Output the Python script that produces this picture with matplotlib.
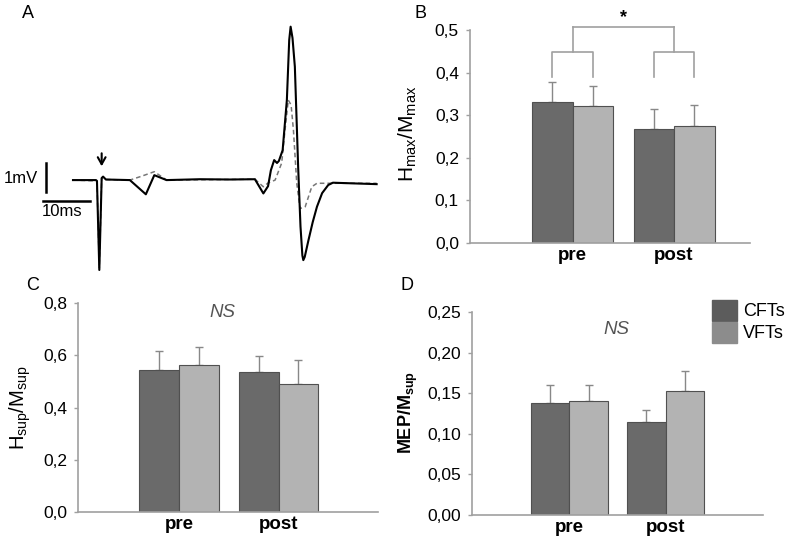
import numpy as np
import matplotlib
matplotlib.use("Agg")
import matplotlib.pyplot as plt
from matplotlib.patches import Patch

plt.rcParams['font.family'] = ['Liberation Sans', 'DejaVu Sans']

# --------------------------------------------------
# Data
# --------------------------------------------------
# Panel A: example traces (ms, mV)
t_solid = [0, 4.9, 5.1, 5.6, 6.1, 6.4, 7.0, 12.1, 15.5, 17.3, 19.9, 27.0, 33.4,
           38.7, 40.5, 41.5, 42.1, 42.8, 43.4, 43.8, 44.6, 45.5, 46.0, 46.3,
           46.7, 47.2, 47.9, 48.4, 48.8, 49.0, 49.3, 50.1, 51.0, 51.9, 53.0,
           54.3, 55.3, 64.6]
v_solid = [0, 0, -0.03, -3.10, 0.07, 0.12, 0.02, 0, -0.49, 0.17, 0, 0.03, 0.02,
           0.03, -0.46, -0.21, 0.34, 0.69, 0.59, 0.66, 1.03, 2.76, 4.83, 5.29,
           4.90, 3.91, 0.46, -1.60, -2.60, -2.76, -2.65, -2.07, -1.45, -0.92, -0.45,
           -0.17, -0.09, -0.14]
t_dash = [0, 5.1, 5.6, 6.1, 6.4, 7.0, 12.1, 14.7, 17.3, 19.9, 38.7, 40.5, 41.5,
          43.0, 44.4, 45.1, 45.8, 46.4, 46.9, 47.6, 48.3, 49.4, 50.8, 51.9, 64.6]
v_dash = [0, -0.03, -3.03, 0.07, 0.10, 0.02, 0, 0.14, 0.29, 0, 0.03, -0.23, -0.10,
          0, 0.59, 1.72, 2.76, 2.59, 1.72, -0.10, -0.98, -0.92, -0.23, -0.11, -0.11]

groups = ["pre", "post"]

# Panel B: Hmax/Mmax
hmax_cft = [0.332, 0.268]
hmax_cft_err = [0.047, 0.047]
hmax_vft = [0.322, 0.275]
hmax_vft_err = [0.047, 0.050]

# Panel C: Hsup/Msup
hsup_cft = [0.545, 0.537]
hsup_cft_err = [0.072, 0.062]
hsup_vft = [0.564, 0.491]
hsup_vft_err = [0.066, 0.091]

# Panel D: MEP/Msup
mep_cft = [0.1385, 0.115]
mep_cft_err = [0.0215, 0.014]
mep_vft = [0.1406, 0.153]
mep_vft_err = [0.019, 0.024]

DARK = "#6a6a6a"
LIGHT = "#b3b3b3"
EDGE = "#505050"
AXC = "#a0a0a0"

W, H = 787, 542
fig = plt.figure(figsize=(W / 100, H / 100), dpi=100)


def px_axes(left, top, right, bottom):
    return fig.add_axes([left / W, 1 - bottom / H, (right - left) / W, (bottom - top) / H])


def bar_panel(ax, cft, cft_err, vft, vft_err, ymax, step, fmt, xlim):
    x = np.arange(len(groups))
    w = 0.4
    ax.bar(x - w / 2, cft, w, color=DARK, edgecolor=EDGE, linewidth=0.8, zorder=2)
    ax.bar(x + w / 2, vft, w, color=LIGHT, edgecolor=EDGE, linewidth=0.8, zorder=2)
    ax.errorbar(x - w / 2, cft, yerr=[np.zeros(len(cft)), cft_err], fmt='none',
                ecolor="#888888", elinewidth=1, capsize=3, zorder=1)
    ax.errorbar(x + w / 2, vft, yerr=[np.zeros(len(vft)), vft_err], fmt='none',
                ecolor="#888888", elinewidth=1, capsize=3, zorder=1)
    ax.set_xlim(*xlim)
    ax.set_ylim(0, ymax)
    yt = np.arange(0, ymax + step / 2, step)
    ax.set_yticks(yt)
    ax.set_yticklabels([fmt.format(v).replace('.', ',') for v in yt], fontsize=12.5)
    ax.set_xticks(x)
    ax.set_xticklabels(groups, fontsize=13.5, fontweight='bold')
    ax.tick_params(axis='x', length=0, pad=3)
    ax.tick_params(axis='y', length=3, width=1, color=AXC, pad=5)
    for s in ['top', 'right']:
        ax.spines[s].set_visible(False)
    for s in ['left', 'bottom']:
        ax.spines[s].set_color(AXC)
        ax.spines[s].set_linewidth(1.2)


# --------------------------------------------------
# A: traces
# --------------------------------------------------
axA = px_axes(0, 0, 400, 290)
axA.plot(t_dash, v_dash, color="#777777", lw=1.1, ls=(0, (3, 2)))
axA.plot(t_solid, v_solid, color="black", lw=1.5)
axA.set_xlim(-15.53, 69.57)
axA.set_ylim(-3.79, 6.21)
axA.axis('off')
# scale bars 1 mV / 10 ms
axA.plot([-5.74, -5.74], [-0.40, 0.60], color="black", lw=1.8)
axA.plot([-6.45, 3.55], [-0.72, -0.72], color="black", lw=1.8)
axA.text(-7.4, 0.05, "1mV", ha='right', va='center', fontsize=12)
axA.text(-6.55, -1.07, "10ms", ha='left', va='center', fontsize=12)
axA.annotate("", xy=(6.1, 0.38), xytext=(6.1, 1.02),
             arrowprops=dict(arrowstyle="->,head_length=0.5,head_width=0.28",
                             color="black", lw=1.5))

# --------------------------------------------------
# B: Hmax/Mmax
# --------------------------------------------------
axB = px_axes(470, 30, 750, 243)
bar_panel(axB, hmax_cft, hmax_cft_err, hmax_vft, hmax_vft_err, 0.5, 0.1, "{:.1f}",
          (-1.014, 1.75))
bk = dict(color=AXC, lw=1.2, clip_on=False)
for c in [0, 1]:
    axB.plot([c - 0.2, c - 0.2, c + 0.2, c + 0.2], [0.39, 0.449, 0.449, 0.39], **bk)
    axB.plot([c, c], [0.449, 0.508], **bk)
axB.plot([0, 1], [0.508, 0.508], **bk)
axB.text(0.5, 0.528, "*", ha='center', va='center', fontsize=13, fontweight='bold')

# --------------------------------------------------
# C: Hsup/Msup
# --------------------------------------------------
axC = px_axes(78, 303, 378, 512)
bar_panel(axC, hsup_cft, hsup_cft_err, hsup_vft, hsup_vft_err, 0.8, 0.2, "{:.1f}",
          (-1.017, 2.0))
axC.text(0.48, 0.955, "NS", transform=axC.transAxes, ha='center', va='center',
         fontsize=13.5, style='italic', color="#555555")

# --------------------------------------------------
# D: MEP/Msup
# --------------------------------------------------
axD = px_axes(472, 312, 763, 515)
bar_panel(axD, mep_cft, mep_cft_err, mep_vft, mep_vft_err, 0.25, 0.05, "{:.2f}",
          (-1.01, 2.01))
axD.text(0.498, 0.915, "NS", transform=axD.transAxes, ha='center', va='center',
         fontsize=13.5, style='italic', color="#555555")

# y labels
fig.text(408 / W, 1 - 134 / H, r"H$_{\mathregular{max}}$/M$_{\mathregular{max}}$",
         rotation=90, ha='center', va='center', fontsize=15)
fig.text(20 / W, 1 - 408 / H, r"H$_{\mathregular{sup}}$/M$_{\mathregular{sup}}$",
         rotation=90, ha='center', va='center', fontsize=14.5)
fig.text(408 / W, 1 - 412 / H, r"MEP/M$_{\mathregular{sup}}$",
         rotation=90, ha='center', va='center', fontsize=13, fontweight='bold')

# panel letters
for lab, x, y in [("A", 28, 13), ("B", 420, 13), ("C", 33, 285), ("D", 407, 285)]:
    fig.text(x / W, 1 - y / H, lab, ha='center', va='center', fontsize=13)

# legend
fig.legend(handles=[Patch(facecolor="#5c5c5c", edgecolor="#5c5c5c", label="CFTs"),
                    Patch(facecolor="#8c8c8c", edgecolor="#8c8c8c", label="VFTs")],
           loc='upper left', bbox_to_anchor=(703 / W, 1 - 291 / H), frameon=False,
           fontsize=13, handlelength=1.4, handleheight=1.4, labelspacing=0.05,
           handletextpad=0.3, borderpad=0)

fig.savefig("out.png", dpi=100)
